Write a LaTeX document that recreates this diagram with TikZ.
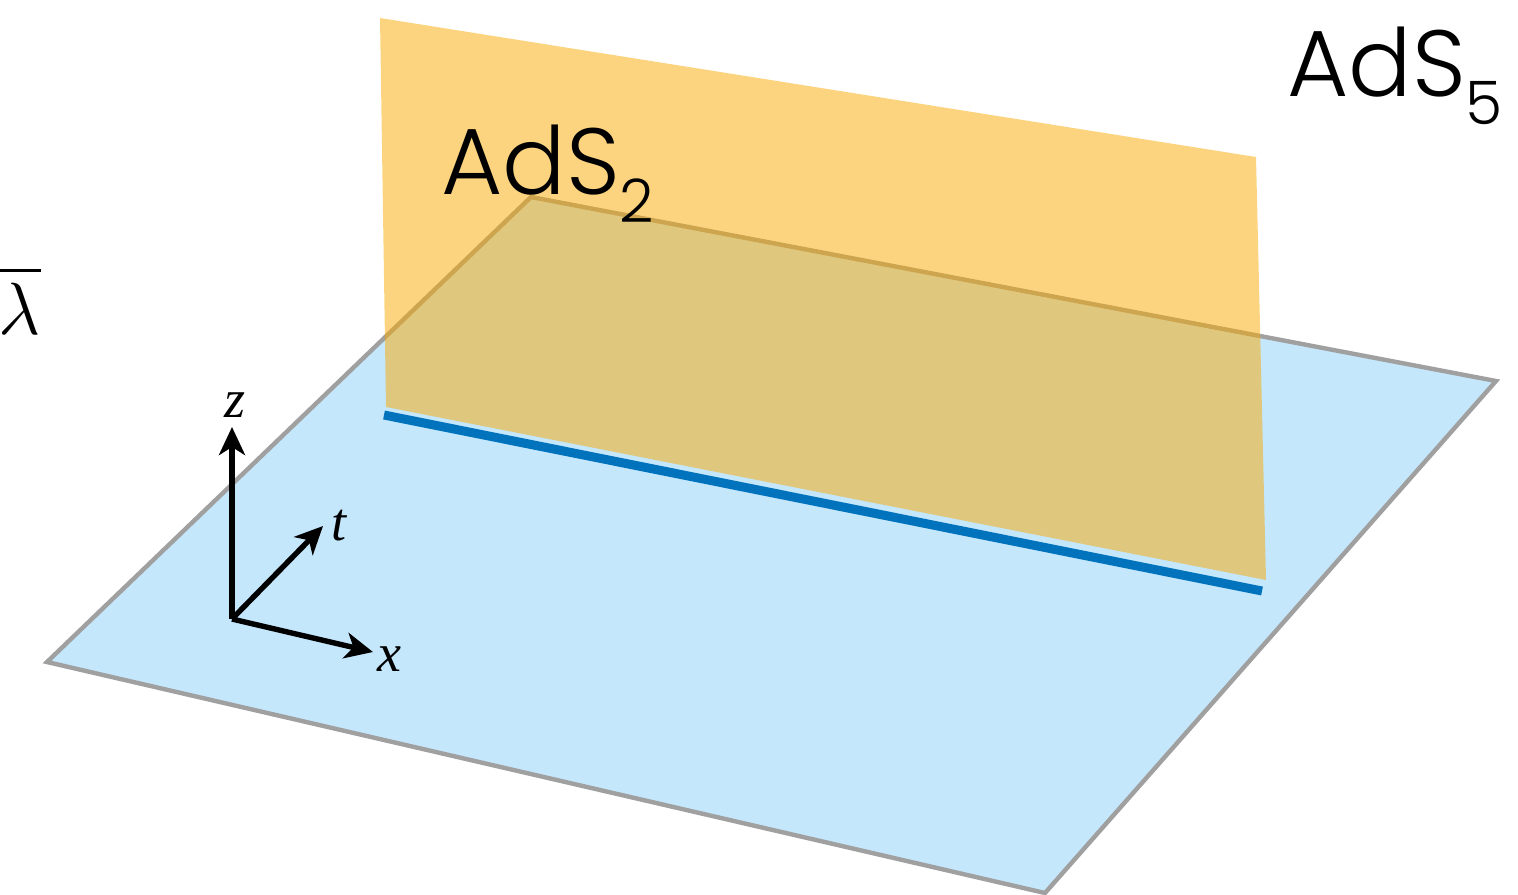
\RequirePackage{fix-cm}
\documentclass[tikz,border=0pt]{standalone}
\usepackage{fontspec}
\newfontfamily\labelfont{Poppins Light}
\newfontfamily\axfont{Liberation Serif}
\usetikzlibrary{arrows.meta}
\definecolor{planeblue}{RGB}{196,231,252}
\definecolor{planeedge}{RGB}{160,160,160}
\definecolor{sheet}{RGB}{250,170,0}
\definecolor{lineblue}{RGB}{0,115,188}
\tikzset{
  axis/.style={line width=2.7pt,-{Stealth[length=14pt,width=13pt,inset=4pt]}},
  axlabel/.style={inner sep=0pt,font=\axfont\itshape\fontsize{27}{27}\selectfont},
  adslabel/.style={inner sep=0pt,font=\labelfont\fontsize{47}{47}\selectfont}
}
\begin{document}
\begin{tikzpicture}[x=0.5pt,y=-0.5pt]
\useasboundingbox (0,0) rectangle (1518,894);
\clip (0,0) rectangle (1518,894);
% bulk plane
\coordinate (b1) at (47,662);
\coordinate (b2) at (531,197);
\coordinate (b3) at (1496,381);
\coordinate (b4) at (1045,893);
\filldraw[fill=planeblue,draw=planeedge,line width=2.2pt,line join=miter] (b1) -- (b2) -- (b3) -- (b4) -- cycle;
% defect line
\coordinate (l1) at (384,415);
\coordinate (l2) at (1262,591);
\draw[lineblue,line width=4.5pt] (l1) -- (l2);
% AdS2 sheet
\coordinate (s1) at (380,18);
\coordinate (s2) at (1256,157);
\coordinate (s3) at (1266,580);
\coordinate (s4) at (386,407);
\fill[sheet,fill opacity=0.5] (s1) -- (s2) -- (s3) -- (s4) -- cycle;
% axes
\coordinate (o) at (232,619);
\coordinate (zt) at (232,427);
\coordinate (tt) at (323,526);
\coordinate (xt) at (373,652);
\draw[axis] (o) -- (zt);
\draw[axis] (o) -- (tt);
\draw[axis] (o) -- (xt);
\node[axlabel,anchor=base] (zl) at (235,417) {z};
\node[axlabel,anchor=base] (tl) at (339,540) {t};
\node[axlabel,anchor=base] (xl) at (389,671) {x};
% labels
\node[adslabel,anchor=base west] (ads2) at (441,194) {AdS\raisebox{-0.3em}{\fontsize{30}{30}\selectfont 2}};
\node[adslabel,anchor=base west] (ads5) at (1287,96) {AdS\raisebox{-0.3em}{\fontsize{30}{30}\selectfont 5}};
\node[inner sep=0pt,anchor=base east,font=\fontsize{37}{37}\selectfont] (lam) at (41,334) {$\sqrt{\lambda}$};
\end{tikzpicture}
\end{document}
